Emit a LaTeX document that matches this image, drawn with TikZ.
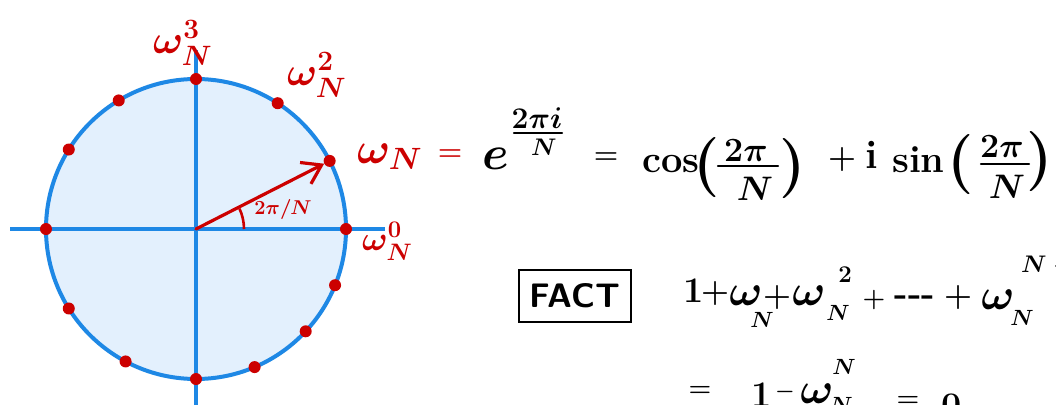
\RequirePackage{fix-cm}
\documentclass[tikz,border=0pt]{standalone}
\usepackage{amsmath}
\usepackage{graphicx}
\usetikzlibrary{arrows.meta}
\definecolor{cblue}{RGB}{30,136,229}
\definecolor{cfill}{RGB}{227,240,253}
\definecolor{cred}{RGB}{204,0,0}
\newcommand\fsz[1]{\fontsize{#1}{#1}\selectfont}
\tikzset{
  axisline/.style={draw=cblue, line width=3.5pt},
  rimline/.style={draw=cblue, line width=4pt},
  rootdot/.style={circle, fill=cred, inner sep=0pt, minimum size=12pt},
  redtxt/.style={text=cred, inner sep=0pt},
  eqtxt/.style={inner sep=0pt},
  fracbar/.style={line width=2.4pt, line cap=round},
  factbox/.style={draw, line width=2.5pt, minimum width=112pt, minimum height=52pt, inner sep=0pt, font=\sffamily\bfseries\fsz{34}},
}
\begin{document}
\begin{tikzpicture}[x=1pt,y=-1pt]
\useasboundingbox (0,0) rectangle (1056,404);
\clip (0,0) rectangle (1056,404);
\fill[white] (0,0) rectangle (1056,404);
% unit circle
\coordinate (O) at (196,229);
\fill[cfill] (O) circle[radius=150];
\coordinate (xl) at (10,229);
\coordinate (xr) at (385,229);
\coordinate (yt) at (196,50);
\coordinate (yb) at (196,410);
\draw[axisline] (xl) -- (xr);
\draw[axisline] (yt) -- (yb);
\draw[rimline] (O) circle[radius=150];
% roots of unity
\foreach \a/\n in {0/d0, 27/d1, 57/d2, 90/d3, 121/d4, 148/d5, 180/d6, 212/d7, 242/d8, 270/d9, 293/d10, 317/d11, 338/d12}
  \node[rootdot] (\n) at ([shift={(-\a:150)}]O) {};
% arrow and angle
\draw[cred, line width=3.2pt, line cap=round, -{Straight Barb[length=18pt,width=24pt,line width=3.2pt]}] (O) -- (d1);
\draw[cred, line width=2.6pt] ([shift={(0:48)}]O) arc[start angle=0, end angle=-25, radius=48];
\node[redtxt, font=\fsz{20}\boldmath] (ang) at (283,209) {$2\pi/N$};
% red labels
\node[redtxt, anchor=base west, font=\fsz{40}\boldmath] (w3) at (153,53) {$\omega_N^3$};
\node[redtxt, anchor=base west, font=\fsz{40}\boldmath] (w2) at (287,85) {$\omega_N^2$};
\node[redtxt, anchor=base west, font=\fsz{44}\boldmath] (w1) at (357,163) {$\omega_N$};
\node[redtxt, anchor=base west, font=\fsz{34}\boldmath] (w0) at (362,250) {$\omega_N^0$};
% first equation
\node[redtxt, font=\fsz{28}\boldmath] (eqr) at (450,155) {$=$};
\node[eqtxt, font=\fsz{48}\boldmath] (e) at (496,159) {$e$};
\node[eqtxt, font=\fsz{30}\boldmath] (en) at (537,118) {$2\pi i$};
\draw[fracbar] (514,133) -- (562,133);
\node[eqtxt, font=\fsz{24}\boldmath] (ed) at (544,147) {$N$};
\node[eqtxt, font=\fsz{28}\boldmath] (eqb) at (606,158) {$=$};
\node[eqtxt, anchor=base west, font=\fsz{38}\bfseries] (cos) at (642,172) {cos};
\node[eqtxt, font=\fsz{60}\bfseries] (lp1) at (707,168) {(};
\node[eqtxt, font=\fsz{34}\boldmath] (n1) at (746,151) {$2\pi$};
\draw[fracbar] (718,166) -- (778,166);
\node[eqtxt, font=\fsz{34}\boldmath] (dn1) at (755,189) {$N$};
\node[eqtxt, font=\fsz{60}\bfseries] (rp1) at (793,169) {)};
\node[eqtxt, font=\fsz{32}\boldmath] (pl) at (842,159) {$+$};
\node[eqtxt, font=\fsz{40}\bfseries] (ii) at (872,155) {i};
\node[eqtxt, anchor=base west, font=\fsz{38}\bfseries] (sin) at (892,172) {sin};
\node[eqtxt, font=\fsz{60}\bfseries] (lp2) at (961,165) {(};
\node[eqtxt, font=\fsz{34}\boldmath] (n2) at (1002,147) {$2\pi$};
\draw[fracbar] (981,164) -- (1029,164);
\node[eqtxt, font=\fsz{34}\boldmath] (dn2) at (1007,187) {$N$};
\node[eqtxt, font=\fsz{60}\bfseries] (rp2) at (1040,162) {)};
% FACT
\node[factbox] (fact) at (575,296) {FACT};
% sum line
\node[eqtxt, font=\fsz{36}\bfseries] (s1) at (694,291) {1};
\node[eqtxt, font=\fsz{32}\boldmath] (sp1) at (715,293) {$+$};
\node[eqtxt, font=\fsz{44}\boldmath] (sw1) at (746,296) {$\omega$};
\node[eqtxt, font=\fsz{22}\boldmath] (sn1) at (762,320) {$N$};
\node[eqtxt, font=\fsz{32}\boldmath] (sp2) at (777,297) {$+$};
\node[eqtxt, font=\fsz{44}\boldmath] (sw2) at (809,296) {$\omega$};
\node[eqtxt, font=\fsz{24}\boldmath] (ss2) at (845,275) {$2$};
\node[eqtxt, font=\fsz{22}\boldmath] (sn2) at (838,313) {$N$};
\node[eqtxt, font=\fsz{26}\boldmath] (sp3) at (874,300) {$+$};
\node[eqtxt, font=\fsz{36}\bfseries] (sd) at (915,301) {-{}-{}-};
\node[eqtxt, font=\fsz{32}\boldmath] (sp4) at (958,297) {$+$};
\node[eqtxt, font=\fsz{44}\boldmath] (sw3) at (998,300) {$\omega$};
\node[eqtxt, font=\fsz{22}\boldmath] (sn3) at (1022,318) {$N$};
\node[eqtxt, anchor=west, font=\fsz{24}\boldmath] (ssn) at (1021,266) {$N-1$};
% bottom line
\node[eqtxt, font=\fsz{26}\boldmath] (b1) at (700,391) {$=$};
\node[eqtxt, font=\fsz{36}\bfseries] (b2) at (762,395) {1};
\node[eqtxt, font=\fsz{22}\boldmath] (b3) at (785,392) {$-$};
\node[eqtxt, font=\fsz{44}\boldmath] (b4) at (817,394) {$\omega$};
\node[eqtxt, font=\fsz{22}\boldmath] (b5) at (844,367) {$N$};
\node[eqtxt, font=\fsz{22}\boldmath] (b6) at (841,405) {$N$};
\node[eqtxt, font=\fsz{26}\boldmath] (b7) at (908,401) {$=$};
\node[eqtxt, font=\fsz{36}\bfseries] (b8) at (952,406) {0};
\end{tikzpicture}
\end{document}
